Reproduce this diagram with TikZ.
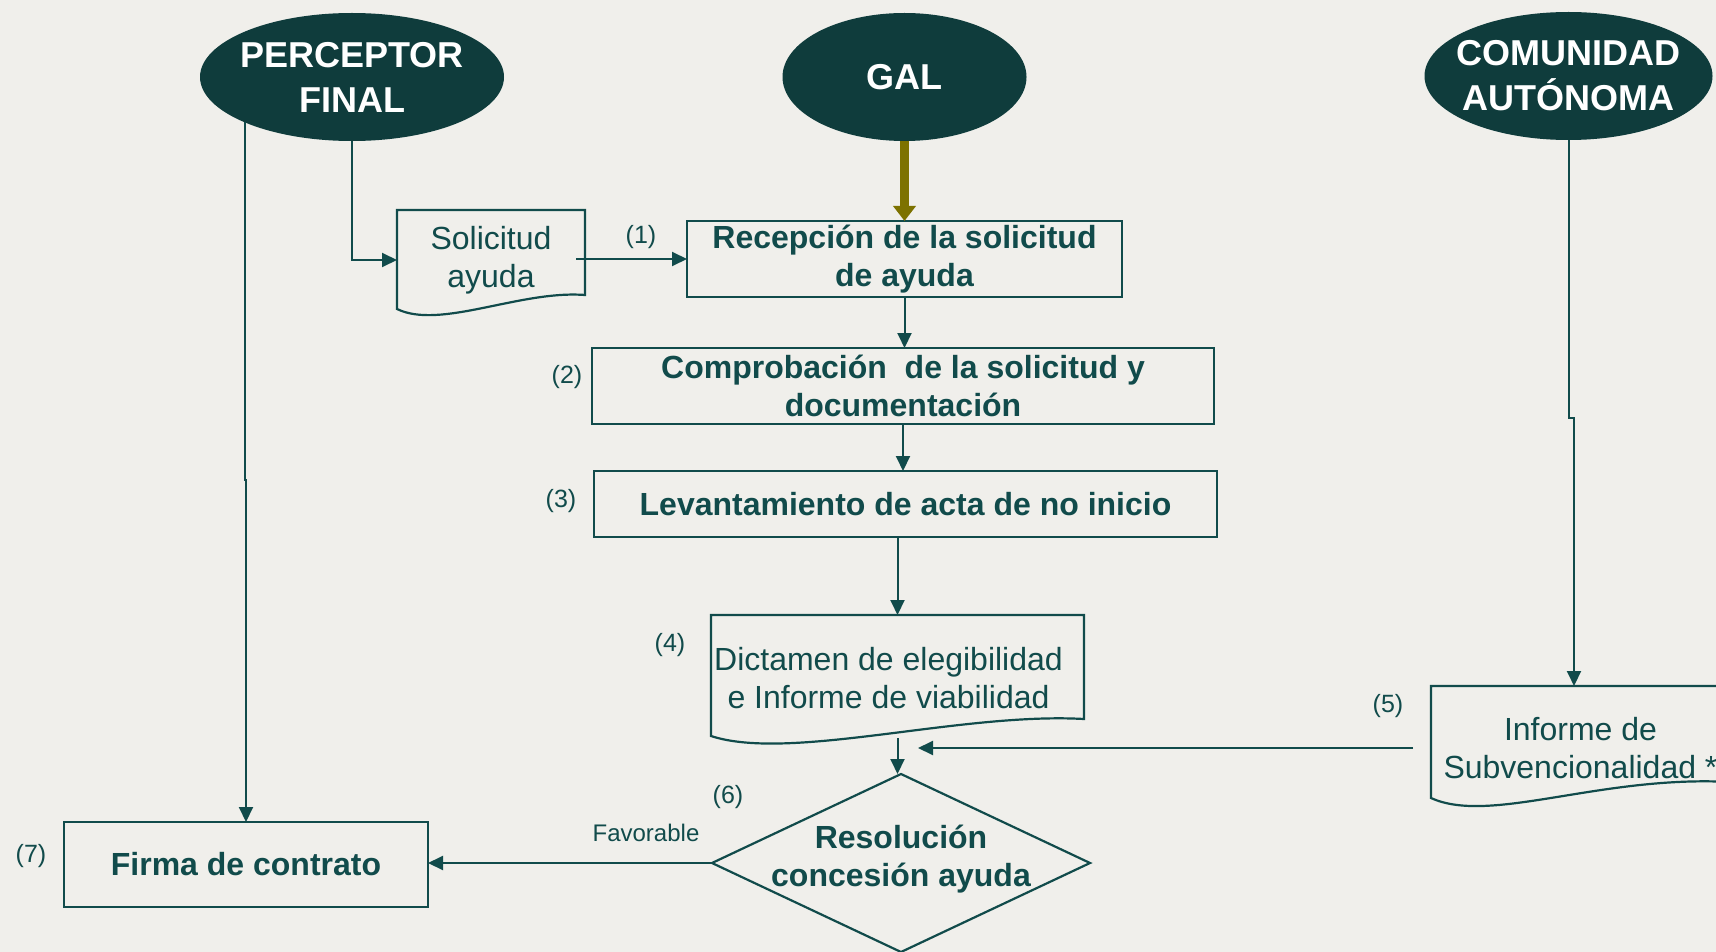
\documentclass[tikz,border=0pt]{standalone}
\usepackage{fontspec}
\setmainfont{Liberation Sans}
\usetikzlibrary{arrows.meta,calc,shapes.geometric}
\definecolor{bgc}{HTML}{F0EFEB}
\definecolor{ink}{HTML}{114B4B}
\definecolor{ellc}{HTML}{0F3C3C}
\definecolor{olivec}{HTML}{7D7200}
\newcommand\ctrbox[1]{\makebox[0pt]{#1}}
\begin{document}
\begin{tikzpicture}[x=1pt,y=-1pt,
  proctext/.style={text=ink, align=center, font=\fontsize{32}{38}\selectfont\bfseries},
  procbox/.style={proctext, draw=ink, line width=2.2pt, rectangle, inner sep=0pt, outer sep=0pt},
  doctext/.style={text=ink, align=center, font=\fontsize{32}{38}\selectfont},
  docnode/.style={doctext, rectangle, inner sep=0pt, outer sep=0pt},
  docline/.style={draw=ink, line width=2.2pt},
  actor/.style={ellipse, fill=ellc, inner sep=0pt, outer sep=0pt, align=center, text=white, font=\fontsize{36}{45}\selectfont\bfseries},
  arr/.style={draw=ink, line width=2pt, -{Triangle[length=15pt,width=14pt]}},
  galarr/.style={draw=olivec, line width=8.5pt, -{Triangle[length=15pt,width=22pt]}},
  num/.style={text=ink, font=\fontsize{25}{30}\selectfont, inner sep=0pt},
  favlabel/.style={text=ink, font=\fontsize{24}{28}\selectfont, inner sep=0pt}
]
\useasboundingbox (0,0) rectangle (1716,952);
\clip (0,0) rectangle (1716,952);
\fill[bgc] (0,0) rectangle (1716,952);

% actors
\node[actor, minimum width=304pt, minimum height=128pt] (pf) at (352,77) {\ctrbox{PERCEPTOR}\\\ctrbox{FINAL}};
\node[actor, minimum width=244pt, minimum height=128pt] (gal) at (904.5,77) {GAL};
\node[actor, minimum width=288pt, minimum height=128pt] (ca) at (1568.5,76) {\ctrbox{COMUNIDAD}\\\ctrbox{AUTÓNOMA}};

% process boxes
\node[procbox, minimum width=435pt, minimum height=76pt] (rec) at (904.5,259) {Recepción de la solicitud\\de ayuda};
\node[procbox, minimum width=622pt, minimum height=76pt] (comp) at (903,386) {Comprobación\ \ de la solicitud y\\documentación};
\node[procbox, minimum width=623pt, minimum height=66pt] (lev) at (905.5,504) {Levantamiento de acta de no inicio};
\node[procbox, minimum width=364pt, minimum height=85pt] (firma) at (246,864.5) {Firma de contrato};

% documents
\node[docnode, minimum width=188pt, minimum height=100pt] (sol) at (491,260) {Solicitud\\ayuda};
\draw[docline] (397,309) -- (397,210) -- (585,210) -- (585,295) .. controls (520,290) and (440,330) .. (397,309) -- cycle;

\node[docnode, minimum width=373pt, minimum height=123pt,
  label={[doctext, xshift=-9pt, yshift=-2pt]center:{Dictamen de elegibilidad\\e Informe de viabilidad}}] (dict) at (897.5,676.5) {};
\draw[docline] (711,736) -- (711,615) -- (1084,615) -- (1084,719) .. controls (960,712) and (790,762) .. (711,736) -- cycle;

\node[docnode, minimum width=299pt, minimum height=124pt] (inf) at (1580.5,748) {Informe de\\Subvencionalidad *};
\draw[docline] (1431,798) -- (1431,686) -- (1730,686) -- (1730,782) .. controls (1600,775) and (1490,825) .. (1431,798) -- cycle;

% decision
\node[rectangle, minimum width=378pt, minimum height=178pt, inner sep=0pt, outer sep=0pt,
  label={[proctext, yshift=4pt]center:{Resolución\\concesión ayuda}}] (res) at (901,863) {};
\draw[docline] (res.north) -- (res.east) -- (res.south) -- (res.west) -- cycle;

% number labels
\node[num] (n1) at (641,237) {(1)};
\node[num] (n2) at (567,377) {(2)};
\node[num] (n3) at (561,501) {(3)};
\node[num] (n4) at (670,645) {(4)};
\node[num] (n5) at (1388,706) {(5)};
\node[num] (n6) at (728,797) {(6)};
\node[num] (n7) at (31,856) {(7)};
\node[favlabel] (fav) at (646,833) {Favorable};

% connectors
\coordinate (solout) at ([xshift=-9pt]sol.east);
\coordinate (cajog) at (1574,418);
\coordinate (infout) at ([xshift=-18pt]inf.west);
\coordinate (jn) at (918,748);

\draw[arr] (pf.south) |- (sol.west);
\draw[arr] (solout |- rec.west) -- (rec.west);
\draw[galarr] (gal.south) -- (rec.north);
\draw[arr] (rec.south) -- (rec.south |- comp.north);
\draw[arr] (comp.south) -- (comp.south |- lev.north);
\draw[arr] (dict.north |- lev.south) -- (dict.north);
\draw[arr] (dict.south) -- (dict.south |- res.north);
\draw[arr] (ca.south) |- (cajog) -- (cajog |- inf.north);
\draw[arr] (infout) -- (jn);
\draw[arr] (pf.south west) -- ++(0,358) -| (firma.north);
\draw[arr] (res.west) -- (res.west -| firma.east);
\end{tikzpicture}
\end{document}
